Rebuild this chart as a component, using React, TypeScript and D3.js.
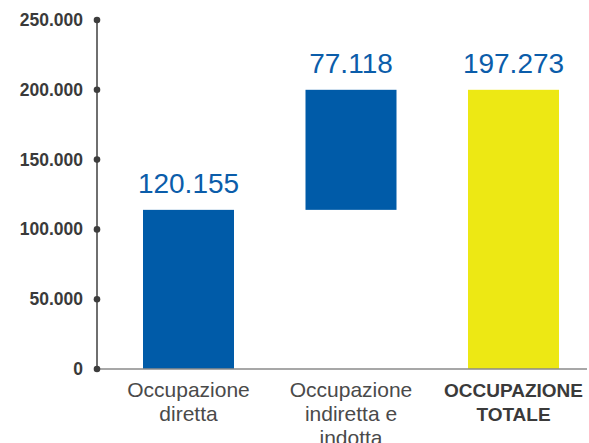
import React from 'react'
import { scaleBand, scaleLinear, formatLocale } from 'd3'

// values (bar ends are where the bars are drawn, labels are printed)
const categories = ['diretta', 'indiretta', 'totale']
const categoryLines = [
  ['Occupazione', 'diretta'],
  ['Occupazione', 'indiretta e', 'indotta'],
  ['OCCUPAZIONE', 'TOTALE'],
]
const barStart = [0, 114000, 0]
const barEnd = [114000, 200000, 200000]
const valueLabels = ['120.155', '77.118', '197.273']
const barColors = ['#005BA8', '#005BA8', '#EDE814']
const yTicks = [0, 50000, 100000, 150000, 200000, 250000]

const itFormat = formatLocale({
  decimal: ',',
  thousands: '.',
  grouping: [3],
  currency: ['', ''],
}).format(',')

export default function App() {
  const width = 589
  const height = 443
  const axisX = 97
  const y = scaleLinear().domain([0, 250000]).range([369, 20])
  const x = scaleBand()
    .domain(categories)
    .range([107.25, 594.75])
    .paddingInner(0.44)
    .paddingOuter(0.22)
  const font = '"Liberation Sans", Arial, Helvetica, sans-serif'

  return (
    <svg
      width={width}
      height={height}
      viewBox={`0 0 ${width} ${height}`}
      style={{ position: 'absolute', left: 0, top: 0, background: '#fff' }}
      fontFamily={font}
    >
      {categories.map((c, i) => {
        const x0 = x(c)!
        const top = y(barEnd[i])
        return (
          <g key={c}>
            <rect
              x={x0}
              y={top}
              width={x.bandwidth()}
              height={y(barStart[i]) - top}
              fill={barColors[i]}
            />
            <text
              x={x0 + x.bandwidth() / 2}
              y={top - 17}
              textAnchor="middle"
              fontSize={28}
              fill="#0B5DAA"
            >
              {valueLabels[i]}
            </text>
            {categoryLines[i].map((line, j) => (
              <text
                key={j}
                x={x0 + x.bandwidth() / 2}
                y={397 + j * 24}
                textAnchor="middle"
                fontSize={i === 2 ? 19 : 21}
                fontWeight={i === 2 ? 'bold' : 'normal'}
                fill={i === 2 ? '#3a3a3a' : '#4a4a4a'}
              >
                {line}
              </text>
            ))}
          </g>
        )
      })}

      {/* baseline */}
      <line x1={axisX} x2={587} y1={y(0)} y2={y(0)} stroke="#8a8a8a" strokeWidth={1.5} />
      {/* y axis */}
      <line x1={axisX} x2={axisX} y1={y(250000)} y2={y(0)} stroke="#6f6f6f" strokeWidth={2} />
      {yTicks.map(t => (
        <g key={t}>
          <circle cx={axisX} cy={y(t)} r={3.3} fill="#3d3d3d" />
          <text
            x={83}
            y={y(t) + 6}
            textAnchor="end"
            fontSize={17.5}
            fontWeight="bold"
            fill="#3a3a3a"
          >
            {itFormat(t)}
          </text>
        </g>
      ))}
    </svg>
  )
}
